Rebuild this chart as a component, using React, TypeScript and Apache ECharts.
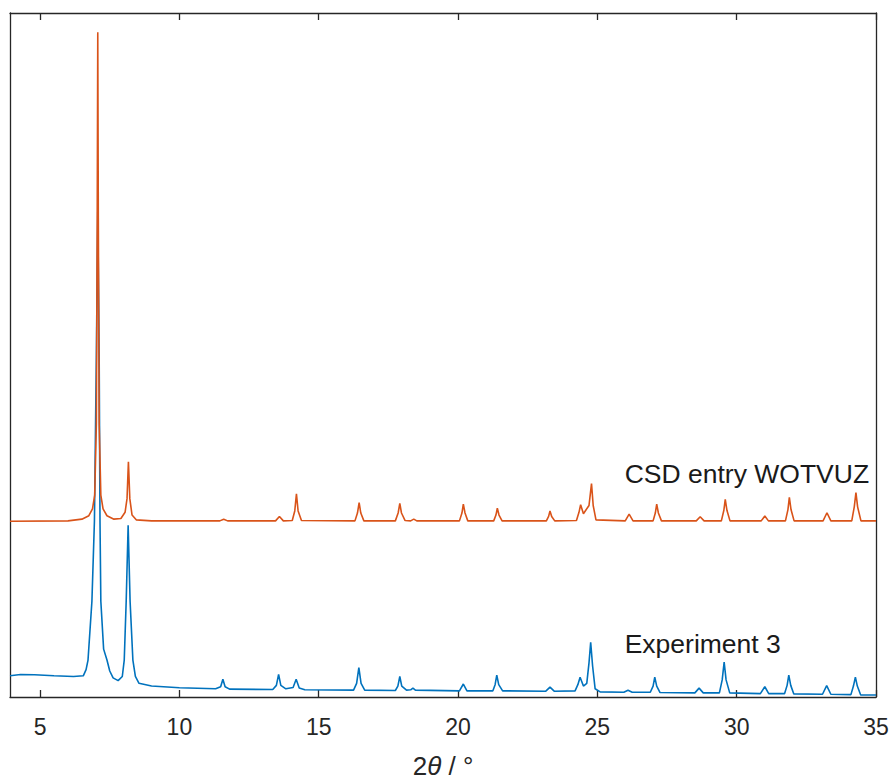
import React, { useEffect, useRef } from "react";
import * as echarts from "echarts";

// Experiment 3 (blue) – 2θ positions and intensities
const expTheta = [
  3.92, 4.3, 4.8, 5.5, 6.2, 6.55, 6.65, 6.72, 6.86, 6.95, 7.02, 7.07, 7.12, 7.15, 7.18, 7.28, 7.4, 7.5, 7.62,
  7.8, 7.95, 8.02, 8.09, 8.16, 8.23, 8.33, 8.42, 8.55, 9.0, 10.0, 11.3, 11.48, 11.56, 11.64, 11.8, 13.35,
  13.48, 13.56, 13.64, 13.82, 14.08, 14.19, 14.3, 14.5, 16.25, 16.36, 16.44, 16.52, 16.65, 17.75, 17.84,
  17.91, 17.98, 18.15, 18.3, 18.38, 18.47, 20.05, 20.19, 20.32, 21.25, 21.33, 21.39, 21.46, 21.6, 23.15,
  23.3, 23.45, 24.2, 24.3, 24.38, 24.5, 24.62, 24.7, 24.76, 24.83, 24.92, 25.1, 25.95, 26.1, 26.25, 26.9,
  27.0, 27.06, 27.13, 27.25, 28.5, 28.65, 28.8, 29.38, 29.48, 29.55, 29.62, 29.75, 30.85, 31.01, 31.15,
  31.72, 31.81, 31.87, 31.94, 32.05, 33.08, 33.23, 33.38, 34.1, 34.19, 34.26, 34.33, 34.45, 35.0,
];
const expIntensity = [
  3.1, 3.3, 3.25, 3.1, 3.0, 3.1, 4.0, 5.4, 14, 25.7, 50, 71, 50, 25.7, 14, 7, 5.4, 3.8, 2.8,
  2.4, 3.0, 5.4, 14, 25.1, 14, 5.4, 3.0, 2.0, 1.6, 1.35, 1.2, 1.5, 2.6, 1.5, 1.15, 1.1,
  1.7, 3.3, 1.7, 1.2, 1.4, 2.6, 1.3, 1.05, 1.0, 2.0, 4.3, 2.0, 1.0, 0.95, 1.6,
  3.0, 1.6, 1.0, 1.05, 1.3, 1.0, 0.9, 1.9, 0.9, 0.9, 1.8, 3.2, 1.8, 0.9, 0.85,
  1.45, 0.85, 0.9, 1.8, 2.9, 1.6, 2.0, 5.0, 8.0, 4.5, 1.2, 0.75, 0.7, 1.0, 0.7, 0.7,
  1.6, 2.9, 1.6, 0.65, 0.6, 1.3, 0.6, 0.6, 2.5, 5.1, 2.5, 0.6, 0.5, 1.5, 0.5,
  0.5, 1.7, 3.2, 1.7, 0.45, 0.4, 1.65, 0.4, 0.35, 1.6, 2.9, 1.6, 0.3, 0.3,
];

// CSD entry WOTVUZ (orange) – simulated pattern, offset upwards
const csdTheta = [
  3.92, 6.0, 6.5, 6.75, 6.88, 6.96, 7.02, 7.05, 7.07, 7.09, 7.12, 7.18, 7.26, 7.4, 7.65, 7.9, 8.05, 8.12,
  8.17, 8.22, 8.3, 8.45, 9.0, 11.45, 11.59, 11.73, 13.45, 13.59, 13.73, 14.05, 14.14, 14.2, 14.26, 14.38,
  16.3, 16.39, 16.45, 16.51, 16.62, 17.75, 17.85, 17.91, 17.97, 18.1, 18.3, 18.41, 18.52, 20.05, 20.14,
  20.19, 20.25, 20.35, 21.28, 21.36, 21.41, 21.47, 21.58, 23.17, 23.25, 23.3, 23.36, 23.47, 24.25, 24.34,
  24.4, 24.5, 24.7, 24.79, 24.85, 24.95, 26.0, 26.14, 26.28, 27.0, 27.08, 27.13, 27.19, 27.3, 28.55, 28.69,
  28.83, 29.45, 29.54, 29.59, 29.65, 29.76, 30.88, 31.01, 31.14, 31.75, 31.84, 31.89, 31.95, 32.06, 33.1,
  33.24, 33.38, 34.13, 34.22, 34.28, 34.34, 34.46, 35.0,
];
const csdIntensity = [
  25.7, 25.75, 26.0, 26.5, 27.5, 29.5, 40, 70, 97.2, 70, 40, 29.5, 27.5, 26.5, 26.0, 26.1, 27.0, 29,
  34.4, 29, 26.6, 25.9, 25.75, 25.75, 26.0, 25.75, 25.75, 26.4, 25.75, 25.8, 27.2, 29.7, 27.2, 25.8,
  25.75, 26.9, 28.4, 26.9, 25.75, 25.75, 26.9, 28.3, 26.9, 25.8, 25.75, 26.0, 25.75, 25.75, 26.9,
  28.2, 26.9, 25.75, 25.75, 26.6, 27.6, 26.6, 25.75, 25.75, 26.4, 27.2, 26.4, 25.75, 25.8, 27.0,
  28.1, 26.8, 28.0, 31.2, 28.0, 25.9, 25.75, 26.75, 25.75, 25.75, 26.9, 28.2, 26.9, 25.75, 25.75, 26.36,
  25.75, 25.75, 27.3, 28.9, 27.3, 25.75, 25.75, 26.46, 25.75, 25.75, 27.4, 29.2, 27.4, 25.75, 25.75,
  26.94, 25.75, 25.75, 27.8, 29.87, 27.8, 25.75, 25.75,
];

const xTicks = [5, 10, 15, 20, 25, 30, 35];
const labels = [
  { text: "CSD entry WOTVUZ", theta: 25.98, intensity: 32.6 },
  { text: "Experiment 3", theta: 25.98, intensity: 7.8 },
];

const AXIS = "#262626";
const FONT = "'Liberation Sans', Arial, Helvetica, sans-serif";

export default function App() {
  const ref = useRef<HTMLDivElement>(null);
  useEffect(() => {
    if (!ref.current) return;
    const chart = echarts.init(ref.current, null, { renderer: "svg" });
    const expData = expTheta.map((t, i) => [t, expIntensity[i]]);
    const csdData = csdTheta.map((t, i) => [t, csdIntensity[i]]);
    const xBase = {
      type: "value" as const,
      min: 3.92,
      max: 35,
      axisLine: { show: true, onZero: false, lineStyle: { color: AXIS, width: 1.3 } },
      splitLine: { show: false },
    };
    chart.setOption({
      animation: false,
      backgroundColor: "#ffffff",
      grid: {
        left: 10,
        right: 17,
        top: 13,
        bottom: 83,
        containLabel: false,
        outerBoundsMode: "none",
      },
      xAxis: [
        {
          ...xBase,
          position: "bottom",
          axisTick: {
            show: true,
            inside: true,
            length: 7,
            customValues: xTicks,
            lineStyle: { color: AXIS, width: 1.3 },
          },
          axisLabel: {
            show: true,
            customValues: xTicks,
            color: AXIS,
            fontSize: 23,
            fontFamily: FONT,
            margin: 18,
          },
          name: "{n|2}{i|θ}{n| / °}",
          nameLocation: "middle",
          nameGap: 56,
          nameTextStyle: {
            fontStyle: "normal",
            rich: {
              n: { fontSize: 26, fontFamily: FONT, color: AXIS, fontStyle: "normal" },
              i: { fontSize: 26, fontFamily: FONT, color: AXIS, fontStyle: "italic" },
            },
          },
        },
        {
          ...xBase,
          position: "top",
          axisTick: {
            show: true,
            inside: true,
            length: 7,
            customValues: xTicks,
            lineStyle: { color: AXIS, width: 1.3 },
          },
          axisLabel: { show: false },
        },
      ],
      yAxis: [
        {
          type: "value",
          min: 0,
          max: 100,
          position: "left",
          axisLine: { show: true, onZero: false, lineStyle: { color: AXIS, width: 1.3 } },
          axisTick: { show: false },
          axisLabel: { show: false },
          splitLine: { show: false },
        },
        {
          type: "value",
          min: 0,
          max: 100,
          position: "right",
          axisLine: { show: true, onZero: false, lineStyle: { color: AXIS, width: 1.3 } },
          axisTick: { show: false },
          axisLabel: { show: false },
          splitLine: { show: false },
        },
      ],
      series: [
        {
          name: "Experiment 3",
          type: "line",
          data: expData,
          showSymbol: false,
          symbol: "none",
          lineStyle: { color: "#0072BD", width: 1.6 },
          z: 2,
        },
        {
          name: "CSD entry WOTVUZ",
          type: "line",
          data: csdData,
          showSymbol: false,
          symbol: "none",
          lineStyle: { color: "#D95319", width: 1.6 },
          z: 3,
          markPoint: {
            symbol: "circle",
            symbolSize: 0,
            silent: true,
            data: labels.map((l) => ({
              coord: [l.theta, l.intensity],
              label: {
                show: true,
                position: "right",
                distance: 0,
                formatter: l.text,
                color: "#1a1a1a",
                fontSize: 26.5,
                fontFamily: FONT,
              },
            })),
          },
        },
      ],
    });
    return () => chart.dispose();
  }, []);
  return (
    <div
      ref={ref}
      style={{ position: "absolute", left: 0, top: 0, width: 893, height: 780 }}
    />
  );
}
